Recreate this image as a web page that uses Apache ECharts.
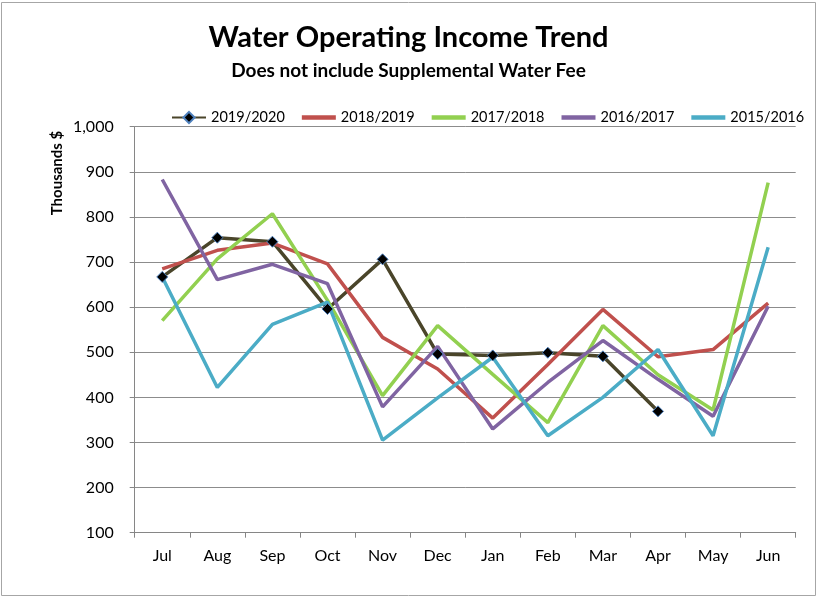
<!DOCTYPE html>
<html>
<head>
<meta charset="utf-8">
<script src="https://cdn.jsdelivr.net/npm/echarts@6/dist/echarts.min.js"></script>
<style>
html,body{margin:0;padding:0;background:#fff;}
#chart{width:817px;height:597px;}
</style>
</head>
<body>
<div id="chart"></div>
<script>
var months=['Jul','Aug','Sep','Oct','Nov','Dec','Jan','Feb','Mar','Apr','May','Jun'];
var seriesNames=['2019/2020','2018/2019','2017/2018','2016/2017','2015/2016'];
var fy2020=[667,754,745,596,706,496,493,499,491,369,null,null];
var fy2019=[685,726,742,696,533,463,354,473,595,490,506,609];
var fy2018=[570,707,807,615,404,559,451,344,559,450,372,876];
var fy2017=[883,661,695,652,379,513,330,433,526,440,358,602];
var fy2016=[667,422,562,611,305,399,489,315,400,506,315,733];
var yTicks={min:100,max:1000,step:100};

var colors=['#4a452a','#c0504d','#92d050','#8064a2','#4bacc6'];
var font='Lato';
var barIcon='path://M0,0L34,0L34,4.5L0,4.5Z';

var chart=echarts.init(document.getElementById('chart'));

function lineSeries(name,data,idx){
	var s={
		name:name,
		type:'line',
		data:data,
		symbol:'none',
		lineStyle:{width:3.5,color:colors[idx]},
		itemStyle:{color:colors[idx]},
		animation:false
	};
	if(idx==0){
		s.symbol='diamond';
		s.symbolSize=11;
		s.showSymbol=true;
		s.itemStyle={color:'#000000',borderColor:'#4f81bd',borderWidth:1};
	}
	return s;
}

var option={
	animation:false,
	color:colors,
	title:[
		{text:'Water Operating Income Trend',left:'center',top:18,
			textStyle:{fontFamily:font,fontSize:29,fontWeight:'bold',color:'#000'}},
		{text:'Does not include Supplemental Water Fee',left:'center',top:56,
			textStyle:{fontFamily:font,fontSize:19,fontWeight:'bold',color:'#000'}}
	],
	legend:{
		data:seriesNames.map(function(n,i){
			return i==0?{name:n}:{name:n,icon:barIcon};
		}),
		left:171,
		top:110,
		width:660,
		padding:0,
		itemWidth:34,
		itemHeight:14,
		itemGap:17,
		textStyle:{fontFamily:font,fontSize:14.5,color:'#000'}
	},
	grid:{left:134.7,right:21.3,top:126.7,bottom:64.3,containLabel:false},
	xAxis:{
		type:'category',
		data:months,
		boundaryGap:true,
		axisLine:{show:true,lineStyle:{color:'#868686',width:1}},
		axisTick:{show:true,inside:false,length:5,lineStyle:{color:'#868686'}},
		axisLabel:{fontFamily:font,fontSize:16,color:'#000',margin:15},
		splitLine:{show:false}
	},
	yAxis:{
		type:'value',
		min:yTicks.min,
		max:yTicks.max,
		interval:yTicks.step,
		axisLine:{show:true,lineStyle:{color:'#868686',width:1}},
		axisTick:{show:true,inside:false,length:5,lineStyle:{color:'#868686'}},
		axisLabel:{fontFamily:font,fontSize:16,color:'#000',margin:21,
			formatter:function(v){return v.toLocaleString('en-US');}},
		splitLine:{show:true,lineStyle:{color:'#8c8c8c',width:1}}
	},
	graphic:[
		{type:'rect',shape:{x:1.5,y:2.5,width:814,height:593},
			style:{fill:'none',stroke:'#a6a6a6',lineWidth:1},silent:true},
		{type:'text',x:57,y:173,rotation:Math.PI/2,
			style:{text:'Thousands $',fontFamily:font,fontSize:15,fontWeight:'bold',
				fill:'#000',align:'center',verticalAlign:'middle'}}
	],
	series:[
		lineSeries(seriesNames[0],fy2020,0),
		lineSeries(seriesNames[1],fy2019,1),
		lineSeries(seriesNames[2],fy2018,2),
		lineSeries(seriesNames[3],fy2017,3),
		lineSeries(seriesNames[4],fy2016,4)
	]
};
chart.setOption(option,true);
</script>
</body>
</html>
